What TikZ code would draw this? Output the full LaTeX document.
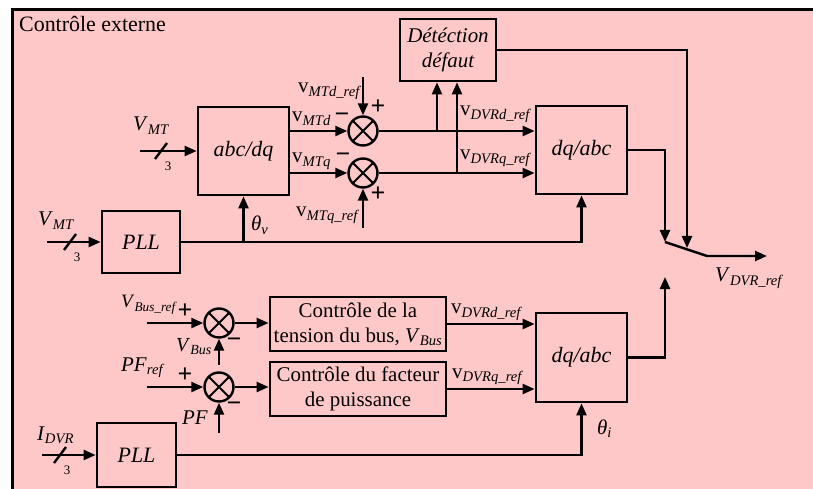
\documentclass[tikz,border=0pt]{standalone}
\usepackage{fontspec}
\setmainfont{Liberation Serif}
\usetikzlibrary{arrows.meta}

\definecolor{fondrose}{RGB}{255,200,200}

\newcommand{\vsub}[2]{\textit{#1}\textsubscript{\textit{#2}}}
\newcommand{\vmin}[1]{v\textsubscript{\textit{#1}}}

\tikzset{
  blk/.style={draw, line width=2.8bp, fill=fondrose, inner sep=2bp, align=center},
  sum/.style={draw, circle, line width=2.4bp, fill=fondrose, minimum size=29bp, inner sep=0pt,
    path picture={\draw[line width=2bp] (path picture bounding box.north west) -- (path picture bounding box.south east)
      (path picture bounding box.north east) -- (path picture bounding box.south west);}},
  wire/.style={line width=2.4bp},
  sig/.style={wire, -{Triangle[length=12bp,width=10bp]}},
  sgn/.style={font=\fontsize{26}{26}\selectfont\bfseries, inner sep=0pt},
  lab/.style={anchor=base west, inner sep=0pt},
}

\begin{document}
\begin{tikzpicture}[x=1bp, y=-1bp, font=\fontsize{21}{25}\selectfont]

\useasboundingbox (0,0) rectangle (813,489);

% background frame
\fill[white] (0,0) rectangle (813,489);
\fill[fondrose] (12,10) rectangle (813,489);
\draw[line width=3bp] (12,489) -- (12,10) -- (813,10);
\node[lab, font=\fontsize{22}{25}\selectfont] (titre) at (19,32) {Contrôle externe};

% blocks
\node[blk, font=\fontsize{21}{25}\selectfont\itshape, minimum width=96bp, minimum height=62bp] (det) at (448,50) {Détéction\\défaut};
\node[blk, font=\fontsize{22}{25}\selectfont\itshape, minimum width=91bp, minimum height=88bp] (abcdq) at (243.5,151) {abc/dq};
\node[blk, font=\fontsize{22}{25}\selectfont\itshape, minimum width=91bp, minimum height=88bp] (dqabc1) at (581.5,150) {dq/abc};
\node[blk, font=\fontsize{22}{25}\selectfont\itshape, minimum width=78bp, minimum height=62bp] (pll1) at (141,242) {PLL};
\node[blk, font=\fontsize{22}{25}\selectfont\itshape, minimum width=91bp, minimum height=89bp] (dqabc2) at (581.5,357.5) {dq/abc};
\node[blk, font=\fontsize{22}{25}\selectfont\itshape, minimum width=79bp, minimum height=64bp] (pll2) at (136.5,455) {PLL};
\node[blk, minimum width=176bp, minimum height=54bp] (cbus) at (358,324) {Contrôle de la\\tension du bus, \vsub{V}{Bus}};
\node[blk, minimum width=176bp, minimum height=54bp] (cpf) at (358,389) {Contrôle du facteur\\de puissance};

% summing junctions
\node[sum] (s1) at (363,131) {};
\node[sum] (s2) at (363,173) {};
\node[sum] (s3) at (219,323) {};
\node[sum] (s4) at (219,387) {};

% free ends
\coordinate (ea) at (140,151);
\coordinate (eb) at (47,242);
\coordinate (ee) at (42,455);
\coordinate (rd) at (363,77);
\coordinate (rq) at (363,228);
\coordinate (bd) at (437,131);
\coordinate (bq) at (457,173);
\coordinate (ec) at (147,323);
\coordinate (ed) at (147,387);
\coordinate (fb) at (219,365);
\coordinate (fp) at (219,433);
\coordinate (ka) at (665,242);
\coordinate (kb) at (687,248);
\coordinate (kc) at (707,256);
\coordinate (kd) at (665,277);
\coordinate (vo) at (767,256);

% upper loop
\draw[sig] (ea) -- (abcdq.west);
\draw[sig] (abcdq.east |- s1) -- (s1.west);
\draw[sig] (abcdq.east |- s2) -- (s2.west);
\draw[sig] (rd) -- (s1.north);
\draw[sig] (rq) -- (s2.south);
\draw[sig] (s1.east) -- (s1.east -| dqabc1.west);
\draw[sig] (s2.east) -- (s2.east -| dqabc1.west);
\draw[sig] (bd) -- (bd |- det.south);
\draw[sig] (bq) -- (bq |- det.south);
\draw[sig] (eb) -- (pll1.west);
\draw[sig] (pll1.east) -| (dqabc1.south);
\draw[sig] (abcdq.south |- pll1.east) -- (abcdq.south);

% selector
\draw[sig] (dqabc1.east) -| (ka);
\draw[sig] (det.east) -| (kb);
\draw[sig] (dqabc2.east) -| (kd);
\draw[sig] (ka) -- (kc) -- (vo);

% lower loop
\draw[sig] (ec) -- (s3.west);
\draw[sig] (ed) -- (s4.west);
\draw[sig] (fb) -- (s3.south);
\draw[sig] (fp) -- (s4.south);
\draw[sig] (s3.east) -- (s3.east -| cbus.west);
\draw[sig] (s4.east) -- (s4.east -| cpf.west);
\draw[sig] (cbus.east) -- (cbus.east -| dqabc2.west);
\draw[sig] (cpf.east) -- (cpf.east -| dqabc2.west);
\draw[sig] (ee) -- (pll2.west);
\draw[sig] (pll2.east) -| (dqabc2.south);

% three-phase marks
\foreach \cx/\cy/\nm in {161/151/ta, 70/242/tb, 60/455/tc} {
  \draw[wire] (\cx-6,\cy+8) -- (\cx+6,\cy-8);
  \node[font=\fontsize{13}{13}\selectfont, inner sep=0pt] (\nm) at (\cx+7,\cy+15) {3};
}

% labels
\node[lab] (lva) at (133,131) {\vsub{V}{MT}};
\node[lab] (lvb) at (38,226) {\vsub{V}{MT}};
\node[lab] (lid) at (37,440) {\vsub{I}{DVR}};
\node[lab] (lmd) at (292,122) {\vmin{MTd}};
\node[lab] (lmq) at (292,163) {\vmin{MTq}};
\node[lab] (lrd) at (298,93) {\vmin{MTd\_ref}};
\node[lab] (lrq) at (296,217) {\vmin{MTq\_ref}};
\node[lab] (lth) at (251,231) {\vsub{θ}{v}};
\node[lab] (ldd) at (460,116) {\vmin{DVRd\_ref}};
\node[lab] (ldq) at (460,160) {\vmin{DVRq\_ref}};
\node[lab] (lvo) at (715,282) {\vsub{V}{DVR\_ref}};
\node[lab, font=\fontsize{19}{20}\selectfont] (lbr) at (121,308) {\vsub{V}{Bus\_ref}};
\node[lab, font=\fontsize{20}{20}\selectfont] (lbu) at (176,351) {\vsub{V}{Bus}};
\node[lab] (lpr) at (121,371) {\vsub{PF}{ref}};
\node[lab] (lpf) at (182,424) {\textit{PF}};
\node[lab] (led) at (451,314) {\vmin{DVRd\_ref}};
\node[lab] (leq) at (452,378) {\vmin{DVRq\_ref}};
\node[lab] (lti) at (597,434) {\vsub{θ}{i}};

% signs
\node[sgn] (g1) at (342,118) {−};
\node[sgn] (g2) at (343,158) {−};
\node[sgn] (g3) at (378,107) {+};
\node[sgn] (g4) at (378,194) {+};
\node[sgn] (g5) at (185,311) {+};
\node[sgn] (g6) at (234,343) {−};
\node[sgn] (g7) at (185,375) {+};
\node[sgn] (g8) at (234,407) {−};

\end{tikzpicture}
\end{document}
